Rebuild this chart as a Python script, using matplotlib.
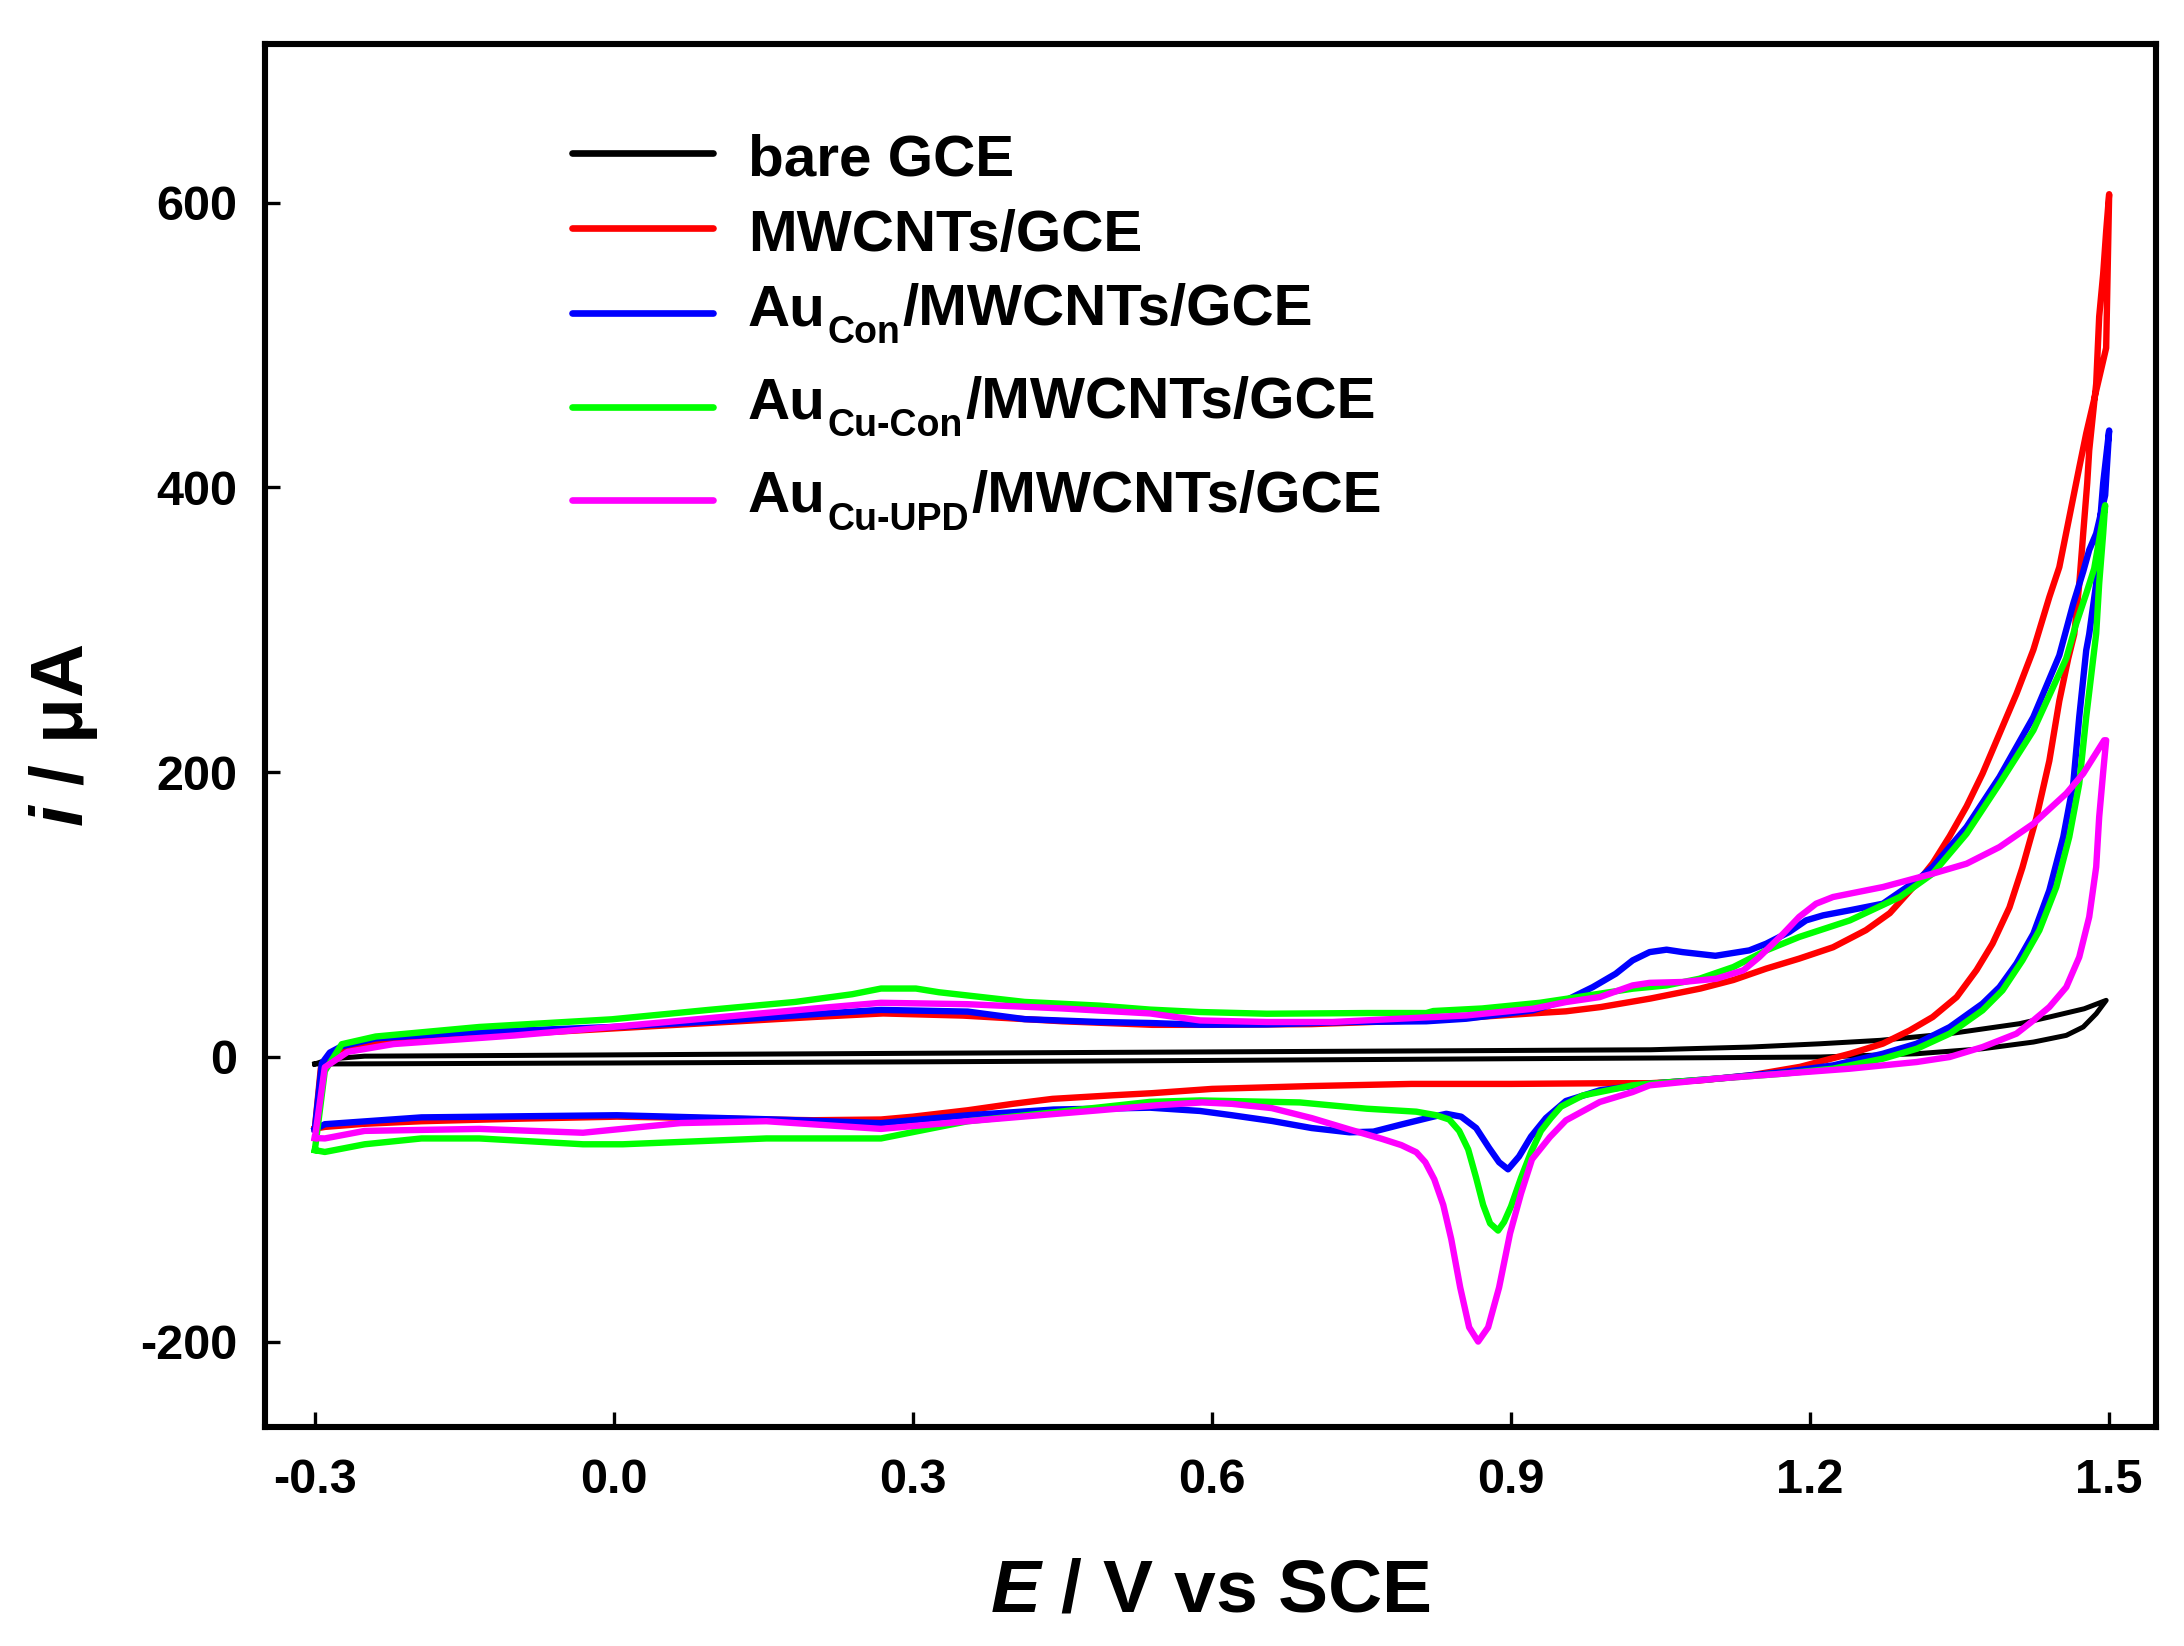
import matplotlib
matplotlib.use('Agg')
import matplotlib.pyplot as plt
from matplotlib.lines import Line2D
import numpy as np

plt.rcParams['font.family'] = ['Liberation Sans', 'DejaVu Sans']
plt.rcParams['font.weight'] = 'bold'
plt.rcParams['axes.unicode_minus'] = False
plt.rcParams['mathtext.fontset'] = 'custom'
plt.rcParams['mathtext.rm'] = 'Liberation Sans:bold'
plt.rcParams['mathtext.it'] = 'Liberation Sans:italic:bold'
plt.rcParams['mathtext.bf'] = 'Liberation Sans:bold'

# ---------------- data (E / V vs SCE, i / uA) ----------------
# bare GCE
e_bare_f = [-0.300, -0.285, -0.25, -0.10, 0.10, 0.30, 0.60, 0.90, 1.04, 1.14, 1.21, 1.27, 1.34, 1.41, 1.44, 1.475, 1.497]
i_bare_f = [-5.0, -1.5, 0.5, 1.0, 1.8, 2.5, 3.5, 4.5, 5.0, 6.9, 9.2, 11.6, 16.3, 23.3, 28.0, 33.8, 39.7]
e_bare_r = [1.497, 1.487, 1.474, 1.457, 1.424, 1.373, 1.307, 1.21, 1.10, 0.90, 0.60, 0.30, 0.00, -0.30]
i_bare_r = [39.7, 30.3, 21.0, 15.1, 10.4, 5.7, 2.2, -0.1, -0.6, -1.3, -2.5, -3.5, -4.3, -5.0]

# MWCNTs/GCE
e_mw_f = [-0.300, -0.294, -0.287, -0.275, -0.25, -0.20, -0.10, 0.00, 0.10, 0.20, 0.27, 0.35, 0.45, 0.54, 0.60, 0.70,
          0.80, 0.855, 0.92, 0.955, 0.99, 1.04, 1.09, 1.123, 1.156, 1.189, 1.223, 1.256, 1.28, 1.307, 1.323, 1.34,
          1.357, 1.373, 1.39, 1.407, 1.424, 1.44, 1.45, 1.46, 1.47, 1.477, 1.487, 1.497]
i_mw_f = [-50.5, -8, 0, 5, 9, 12, 16, 20, 24, 28, 30.5, 29, 25, 22.5, 22.5, 23,
          25.5, 27.5, 30.5, 32, 35, 41, 48, 54, 62, 69, 77, 89, 101, 122, 136, 155,
          176, 199, 227, 255, 286, 323, 344, 379, 414, 438, 468, 498]
e_mw_r = [1.500, 1.497, 1.494, 1.490, 1.487, 1.480, 1.478, 1.474, 1.470, 1.465, 1.459, 1.450, 1.440, 1.427, 1.413,
          1.400, 1.383, 1.367, 1.347, 1.323, 1.300, 1.273, 1.240, 1.190, 1.140, 1.090, 1.040, 1.000, 0.900, 0.800,
          0.700, 0.600, 0.540, 0.500, 0.440, 0.400, 0.355, 0.300, 0.268, 0.200, 0.153, 0.050, 0.003, -0.100, -0.193,
          -0.250, -0.290, -0.300]
i_mw_r = [606, 580, 550, 520, 473, 426, 403, 368, 332, 297, 280, 250, 208, 168, 133,
          105, 79.5, 61, 42, 28, 18.6, 9.3, 2.2, -7, -13, -16.5, -18.5, -18.5, -19, -19,
          -20.5, -22.5, -25.5, -27, -29.5, -33, -37.5, -42, -44, -44.5, -44, -42.5, -42, -43.5, -45.2,
          -47, -49.2, -50.5]

# Au_Con/MWCNTs/GCE
e_con_f = [-0.300, -0.293, -0.285, -0.273, -0.239, -0.150, -0.002, 0.100, 0.211, 0.268, 0.355, 0.412, 0.487, 0.538,
           0.588, 0.655, 0.738, 0.815, 0.855, 0.922, 0.955, 0.982, 1.005, 1.022, 1.039, 1.056, 1.072, 1.105, 1.139,
           1.156, 1.179, 1.196, 1.213, 1.240, 1.273, 1.307, 1.323, 1.357, 1.390, 1.424, 1.450, 1.464, 1.474, 1.480,
           1.487, 1.496]
i_con_f = [-51, -4.6, 3, 7.5, 13, 17, 21, 25, 30.5, 33, 31.8, 26.5, 24.5, 23.8,
           22.6, 22.8, 24.5, 25, 26.8, 32.7, 39.7, 49, 58.4, 67.8, 73.6, 75.3, 73.6, 71, 74.8,
           79.5, 87.7, 95.9, 99.4, 103, 107.6, 124, 133.4, 161.5, 196.6, 238.8, 282, 318.4, 341, 356,
           367.6, 394.5]
e_con_r = [1.500, 1.494, 1.490, 1.487, 1.480, 1.477, 1.470, 1.464, 1.454, 1.440, 1.424, 1.407, 1.390, 1.373, 1.340,
           1.307, 1.273, 1.223, 1.173, 1.106, 1.039, 0.989, 0.955, 0.935, 0.920, 0.908, 0.897, 0.888, 0.878, 0.865,
           0.850, 0.835, 0.822, 0.790, 0.762, 0.738, 0.700, 0.660, 0.620, 0.588, 0.538, 0.441, 0.355, 0.268, 0.153,
           0.003, -0.193, -0.290, -0.300]
i_con_r = [440, 403, 368, 332.5, 297, 285.6, 238.8, 191.9, 154.5, 117, 86.5, 65.5, 49, 37.4, 20.9,
           9.3, 2.2, -6, -10.7, -15.3, -18.9, -23.5, -31, -43, -56, -70, -79, -74, -64, -50,
           -42, -40, -42, -47.5, -52.5, -53, -50, -45, -41, -38, -35.7, -37, -41, -46.5, -43.8,
           -41, -42.5, -47.3, -51]

# Au_Cu-Con/MWCNTs/GCE
e_cucon_f = [-0.300, -0.290, -0.273, -0.239, -0.135, -0.002, 0.095, 0.182, 0.239, 0.268, 0.303, 0.326, 0.412, 0.487,
             0.538, 0.588, 0.655, 0.756, 0.815, 0.822, 0.871, 0.929, 0.967, 0.989, 1.022, 1.056, 1.089, 1.123, 1.156,
             1.189, 1.240, 1.290, 1.323, 1.357, 1.390, 1.424, 1.457, 1.467, 1.477, 1.485]
i_cucon_f = [-65.5, -10, 8.9, 14.3, 21, 26.4, 33, 38.6, 44, 48, 48, 45.4, 38.6, 36,
             33.2, 31.5, 30.3, 30.8, 30.8, 32.2, 34, 38, 42, 44.4, 47.9, 50.2, 54.9, 63.1, 74.8,
             84.2, 95.9, 112.3, 128.7, 156.8, 191.9, 229.4, 280, 304.4, 325.4, 343]
e_cucon_r = [1.496, 1.494, 1.490, 1.487, 1.485, 1.477, 1.470, 1.460, 1.447, 1.430, 1.413, 1.393, 1.373, 1.340, 1.307,
             1.273, 1.223, 1.173, 1.106, 1.039, 1.022, 0.972, 0.950, 0.940, 0.930, 0.920, 0.910, 0.900, 0.893, 0.887,
             0.879, 0.872, 0.865, 0.857, 0.848, 0.838, 0.825, 0.805, 0.755, 0.688, 0.588, 0.538, 0.441, 0.355, 0.268,
             0.153, 0.009, -0.031, -0.135, -0.193, -0.250, -0.290, -0.300]
i_cucon_r = [387.5, 367.6, 332.5, 297.3, 285.6, 238.8, 191.9, 154.5, 119.3, 88.9, 67.8, 46.7, 32.7, 16.3, 5.7,
             -1.3, -8.3, -11.8, -15.3, -18.9, -20, -27.1, -35, -43, -52, -67, -85, -105, -116, -122,
             -117, -104, -85, -65, -52, -44, -41, -38.5, -36.4, -32, -30.6, -31.6, -39, -45.2, -57.3,
             -57.3, -61.4, -61.4, -57.3, -57.3, -61.4, -66.8, -65.5]

# Au_Cu-UPD/MWCNTs/GCE
e_upd_f = [-0.300, -0.290, -0.267, -0.221, -0.100, -0.002, 0.100, 0.211, 0.268, 0.355, 0.450, 0.538, 0.588, 0.655,
           0.721, 0.788, 0.855, 0.922, 0.955, 0.989, 1.022, 1.039, 1.072, 1.106, 1.133, 1.149, 1.173, 1.189, 1.206,
           1.223, 1.273, 1.323, 1.357, 1.390, 1.424, 1.457, 1.474, 1.495]
i_upd_f = [-57, -7.3, 3.5, 9, 15, 21, 27.5, 34.6, 38, 37, 34, 30.5, 25.6, 24.5,
           24.5, 26.8, 29.1, 33.8, 38.5, 42, 50.2, 52, 52.6, 54.9, 60.8, 70.1, 86.5, 98.3, 107.6,
           112.3, 119.3, 128.7, 135.7, 147.4, 163.8, 185, 199, 222.4]
e_upd_r = [1.497, 1.494, 1.490, 1.487, 1.480, 1.470, 1.457, 1.440, 1.424, 1.407, 1.373, 1.340, 1.307, 1.240, 1.173,
           1.106, 1.039, 1.022, 0.989, 0.955, 0.939, 0.921, 0.910, 0.899, 0.888, 0.877, 0.867, 0.858, 0.849, 0.840,
           0.832, 0.823, 0.814, 0.805, 0.790, 0.770, 0.738, 0.700, 0.660, 0.620, 0.590, 0.545, 0.487, 0.355, 0.268,
           0.153, 0.067, -0.031, -0.135, -0.250, -0.290, -0.300]
i_upd_r = [222.4, 200, 168.5, 133.4, 98.3, 70.1, 49, 35, 25.6, 16.3, 6.9, -0.1, -3.6, -8.3, -11.8,
           -15.3, -20, -24.7, -31.7, -44.6, -56.3, -72, -96, -124, -162, -190, -200, -190, -162, -128,
           -104, -86, -74, -67, -62, -57.5, -51, -43, -36, -33, -32, -34, -37.5, -45.2, -50.6,
           -45.2, -46.5, -53.3, -50.6, -52, -57.3, -57]

x_ticks = [-0.3, 0.0, 0.3, 0.6, 0.9, 1.2, 1.5]
x_tick_labels = ['-0.3', '0.0', '0.3', '0.6', '0.9', '1.2', '1.5']
y_ticks = [-200, 0, 200, 400, 600]
y_tick_labels = ['-200', '0', '200', '400', '600']

labels = [('bare GCE', None, None),
          ('MWCNTs/GCE', None, None),
          ('Au', 'Con', '/MWCNTs/GCE'),
          ('Au', 'Cu-Con', '/MWCNTs/GCE'),
          ('Au', 'Cu-UPD', '/MWCNTs/GCE')]
colors = ['#000000', '#FF0000', '#0000FF', '#00FF00', '#FF00FF']
curves = [(e_bare_f, i_bare_f, e_bare_r, i_bare_r),
          (e_mw_f, i_mw_f, e_mw_r, i_mw_r),
          (e_con_f, i_con_f, e_con_r, i_con_r),
          (e_cucon_f, i_cucon_f, e_cucon_r, i_cucon_r),
          (e_upd_f, i_upd_f, e_upd_r, i_upd_r)]
widths = [1.8, 2.3, 2.3, 2.3, 2.3]

# ---------------- figure ----------------
W, H, DPI = 2184, 1646, 200
fig = plt.figure(figsize=(W / DPI, H / DPI), dpi=DPI)
ax = fig.add_axes([265 / W, (H - 1427) / H, (2156 - 265) / W, (1427 - 44) / H])

for (ef, i_f, er, i_r), c, lw in zip(curves, colors, widths):
    ax.plot(np.concatenate([ef, er]), np.concatenate([i_f, i_r]), color=c, lw=lw,
            solid_joinstyle='round')

ax.set_xlim(-0.35, 1.547)
ax.set_ylim(-260, 711.5)
ax.set_xticks(x_ticks)
ax.set_xticklabels(x_tick_labels)
ax.set_yticks(y_ticks)
ax.set_yticklabels(y_tick_labels)
ax.tick_params(axis='both', direction='in', length=5.4, width=1.2, labelsize=17.5,
               top=False, right=False)
ax.tick_params(axis='x', pad=11)
ax.tick_params(axis='y', pad=10)
for sp in ax.spines.values():
    sp.set_linewidth(2.2)

ax.set_xlabel(r'$E$ / V vs SCE', fontsize=27, fontweight='bold')
ax.xaxis.set_label_coords(0.5, -0.0946)
ax.set_ylabel(r'$i$ / μA', fontsize=27, fontweight='bold')
ax.yaxis.set_label_coords(-0.0872, 0.5)

# ---------------- legend (manual, reproducing layout) ----------------
renderer = fig.canvas.get_renderer()
line_y = [153.3, 228.3, 312.7, 406.7, 500.0]
base_y = [176.0, 250.7, 325.0, 418.3, 511.7]
for (main, sub, rest), c, ly, by in zip(labels, colors, line_y, base_y):
    fig.add_artist(Line2D([572 / W, 713 / W], [1 - ly / H, 1 - ly / H], transform=fig.transFigure,
                          color=c, lw=2.4, solid_capstyle='round'))
    t = fig.text(748 / W, 1 - by / H, main, fontsize=21, fontweight='bold', va='baseline', ha='left')
    if sub is not None:
        x1 = t.get_window_extent(renderer).x1 + 2
        t2 = fig.text(x1 / W, 1 - (by + 18) / H, sub, fontsize=13.5, fontweight='bold',
                      va='baseline', ha='left')
        x2 = t2.get_window_extent(renderer).x1 + 2
        fig.text(x2 / W, 1 - by / H, rest, fontsize=21, fontweight='bold', va='baseline', ha='left')

fig.savefig('out.png', dpi=DPI)
